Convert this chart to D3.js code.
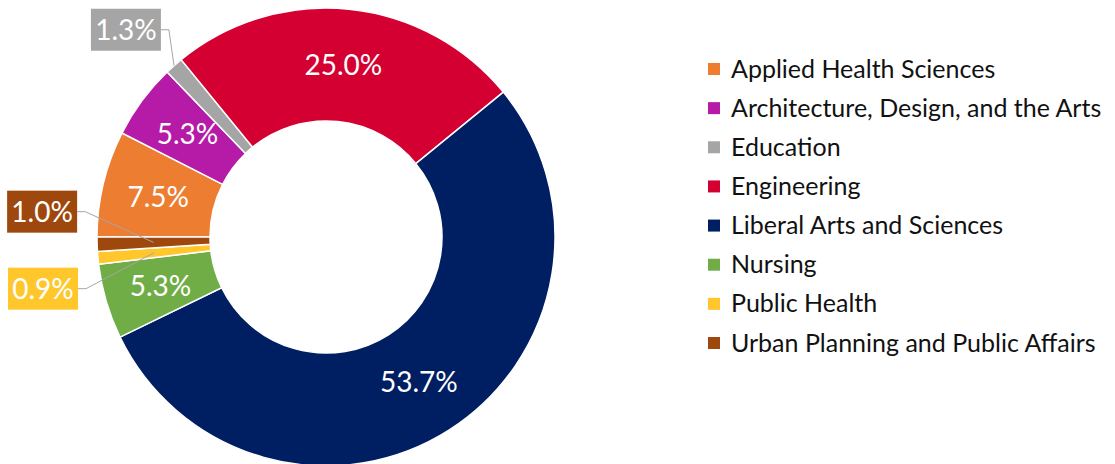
<!DOCTYPE html>
<html>
<head>
<meta charset="utf-8">
<script src="https://cdn.jsdelivr.net/npm/d3@7"></script>
<style>
  body { margin: 0; background: #fff; }
  svg { display: block; font-family: Lato, 'Open Sans', sans-serif; }
</style>
</head>
<body>
<svg id="chart"></svg>
<script>
// Share of students by college (%)
const colleges = [
  'Applied Health Sciences',
  'Architecture, Design, and the Arts',
  'Education',
  'Engineering',
  'Liberal Arts and Sciences',
  'Nursing',
  'Public Health',
  'Urban Planning and Public Affairs'
];
const shares = [7.5, 5.3, 1.3, 25.0, 53.7, 5.3, 0.9, 1.0];
const sliceColors = ['#ED7D31', '#B51BA7', '#A5A5A5', '#D50032', '#001E62', '#70AD47', '#FFC72C', '#9E480E'];

const width = 1115, height = 464;
const cx = 326, cy = 237;
const outerR = 229, innerR = 116;
const smallCut = 2; // slices below this get an outside boxed label

const data = colleges.map((c, i) => ({ college: c, value: shares[i] }));
const color = d3.scaleOrdinal(colleges, sliceColors);
const fmt = v => d3.format('.1f')(v) + '%';

const svg = d3.select('#chart')
  .attr('width', width)
  .attr('height', height)
  .attr('viewBox', [0, 0, width, height]);

svg.append('rect').attr('width', width).attr('height', height).attr('fill', '#fff');

const pie = d3.pie()
  .value(d => d.value)
  .sort(null)
  .startAngle(-Math.PI / 2)
  .endAngle(Math.PI * 1.5);

const arc = d3.arc().innerRadius(innerR).outerRadius(outerR);
const arcs = pie(data);

const g = svg.append('g').attr('transform', `translate(${cx},${cy})`);

// Slices
g.selectAll('path.slice')
  .data(arcs)
  .join('path')
  .attr('class', 'slice')
  .attr('d', arc)
  .attr('fill', d => color(d.data.college))
  .attr('stroke', '#fff')
  .attr('stroke-width', 1.5);

// Inside labels
g.selectAll('text.inner')
  .data(arcs.filter(d => d.data.value >= smallCut))
  .join('text')
  .attr('class', 'inner')
  .attr('transform', d => `translate(${arc.centroid(d)})`)
  .attr('text-anchor', 'middle')
  .attr('dy', '0.36em')
  .attr('fill', '#fff')
  .attr('font-size', 28)
  .text(d => fmt(d.data.value));

// Outside boxed labels
const boxW = 70, boxH = 42, anchorR = 249;
const outside = arcs.filter(d => d.data.value < smallCut).map(d => {
  const a = (d.startAngle + d.endAngle) / 2;
  const sx = Math.sin(a), sy = -Math.cos(a);
  const ax = anchorR * sx, ay = anchorR * sy;
  const side = Math.abs(sy) < 0.3;
  return {
    d, a, sx, sy, side,
    x: ax + (boxW / 2) * Math.max(-1, Math.min(1, sx * 1.5)),
    y: ay + (boxH / 2) * Math.max(-1, Math.min(1, sy * 1.5))
  };
});

// push apart labels that sit on top of each other
const sorted = outside.slice().sort((p, q) => p.y - q.y);
const minGap = boxH + 35;
for (let i = 1; i < sorted.length; i++) {
  const p = sorted[i - 1], q = sorted[i];
  const gap = q.y - p.y;
  if (Math.abs(p.x - q.x) < boxW && gap < minGap) {
    const shift = (minGap - gap) / 2;
    p.y -= shift + 4;
    q.y += shift - 4;
  }
}

const leaders = g.append('g');
outside.forEach(o => {
  const r = o.side ? (innerR + outerR) / 2 : outerR;
  const ex = r * Math.sin(o.a), ey = -r * Math.cos(o.a);
  const dir = o.sx < 0 ? 1 : -1;
  const bx = o.x + dir * boxW / 2;
  leaders.append('path')
    .attr('d', `M${bx},${o.y} H${bx + dir * 8} L${ex},${ey}`)
    .attr('fill', 'none')
    .attr('stroke', '#A6A6A6')
    .attr('stroke-width', 1);
});

const boxes = g.selectAll('g.box')
  .data(outside)
  .join('g')
  .attr('class', 'box')
  .attr('transform', o => `translate(${o.x},${o.y})`);

boxes.append('rect')
  .attr('x', -boxW / 2)
  .attr('y', -boxH / 2)
  .attr('width', boxW)
  .attr('height', boxH)
  .attr('fill', o => color(o.d.data.college));

boxes.append('text')
  .attr('text-anchor', 'middle')
  .attr('dy', '0.36em')
  .attr('fill', '#fff')
  .attr('font-size', 28)
  .text(o => fmt(o.d.data.value));

// Legend
const legendY = d3.scalePoint(colleges, [69, 343]);
const legend = svg.append('g').attr('transform', 'translate(708,0)');

const items = legend.selectAll('g')
  .data(colleges)
  .join('g')
  .attr('transform', c => `translate(0,${legendY(c)})`);

items.append('rect')
  .attr('x', 0)
  .attr('y', -6)
  .attr('width', 12)
  .attr('height', 12)
  .attr('fill', c => color(c));

items.append('text')
  .attr('x', 23)
  .attr('dy', '0.34em')
  .attr('fill', '#111')
  .attr('font-size', 25)
  .text(c => c);
</script>
</body>
</html>
